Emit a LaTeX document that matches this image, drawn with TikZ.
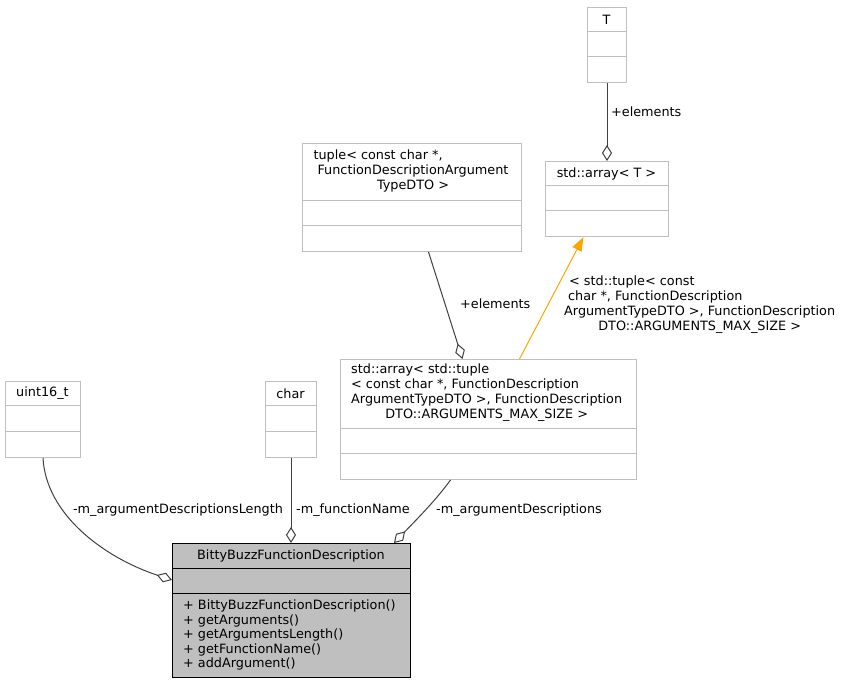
\documentclass[tikz,border=0pt]{standalone}
\usepackage{fontspec}
\setmainfont{DejaVu Sans}
\usetikzlibrary{arrows.meta,calc}
\definecolor{edgegray}{HTML}{404040}
\definecolor{boxgray}{HTML}{BFBFBF}
\definecolor{reforange}{HTML}{FFA500}

\begin{document}
\begin{tikzpicture}[x=1pt,y=-1pt,
    every node/.style={font=\fontsize{12.8}{15}\selectfont,inner sep=0pt},
    cls/.style={draw=boxgray,line width=1pt,anchor=north west},
    maincls/.style={draw=black,fill=boxgray,line width=1pt,anchor=north west},
    aggr/.style={draw=edgegray,line width=1pt,-{Diamond[open,length=16pt,width=10pt]}},
    inst/.style={draw=reforange,line width=1pt,-{Triangle[length=14pt,width=10pt]}}]
  \useasboundingbox (0,0) rectangle (844,684);

  % class boxes
  \node[cls,minimum width=39pt,minimum height=75pt] (T) at (587,7) {};
  \node[cls,minimum width=123pt,minimum height=75pt] (arrT) at (545,161) {};
  \node[cls,minimum width=219pt,minimum height=108pt] (tup) at (302,143) {};
  \node[cls,minimum width=296pt,minimum height=120pt] (arrTup) at (340,359) {};
  \node[cls,minimum width=75pt,minimum height=76pt] (uint) at (5,381) {};
  \node[cls,minimum width=51pt,minimum height=76pt] (chr) at (265,381) {};
  \node[maincls,minimum width=238pt,minimum height=134pt] (main) at (172,543) {};

  % compartment lines
  \foreach \xa/\xb/\ya/\yb in {587/626/32/57, 545/668/186/211, 302/521/201/226,
                               340/636/429/454, 5/80/406/432, 265/316/406/432}
  {
    \draw[boxgray,line width=1pt] (\xa,\ya) -- (\xb,\ya);
    \draw[boxgray,line width=1pt] (\xa,\yb) -- (\xb,\yb);
  }
  \draw[black,line width=1pt] (172,568) -- (410,568);
  \draw[black,line width=1pt] (172,593) -- (410,593);

  % class names
  \node (Tname) at (606.5,19.5) {T};
  \node (arrTname) at (606.5,173.5) {std::array< T >};
  \node (tupname) at (413,172)
    {\begin{tabular}{@{}c@{}}\multicolumn{1}{@{}l@{}}{\hspace*{-4pt}tuple< const char *,}\\
     FunctionDescriptionArgument\\ TypeDTO >\end{tabular}};
  \node[anchor=west] (arrTupname) at (351,393)
    {\begin{tabular}{@{}l@{}}std::array< std::tuple\\
     < const char *, FunctionDescription\\
     ArgumentTypeDTO >, FunctionDescription\\
     \multicolumn{1}{@{}c@{}}{DTO::ARGUMENTS\_MAX\_SIZE >}\end{tabular}};
  \node (uintname) at (42.5,393.5) {uint16\_t};
  \node (chrname) at (290.5,393.5) {char};
  \node (mainname) at (291,555.5) {BittyBuzzFunctionDescription};
  \node[anchor=west,align=left,font=\fontsize{12.8}{14.5}\selectfont] (mainops) at (183,635)
    {+ BittyBuzzFunctionDescription()\\ + getArguments()\\ + getArgumentsLength()\\
     + getFunctionName()\\ + addArgument()};

  % connectors
  \draw[aggr] (T.south) -- (arrT.north);
  \draw[aggr] ([xshift=16.5pt]tup.south) -- ([xshift=-26pt]arrTup.north);
  \draw[inst] ([xshift=31pt]arrTup.north) -- ([xshift=-23.5pt]arrT.south);
  \draw[aggr] (uint.south) .. controls (46,515) and (105,558) .. ([yshift=-37pt]main.north west);
  \draw[aggr] (chr.south) -- (chr.south |- main.north);
  \draw[aggr] ([xshift=-38pt]arrTup.south) .. controls (436,500) and (418,518) .. ([xshift=-17pt]main.north east);

  % connector labels
  \node[anchor=west] (lblT) at (611,112) {+elements};
  \node[anchor=west] (lbltup) at (460,304) {+elements};
  \node[anchor=north west] (lblinst) at (564,275)
    {\begin{tabular}{@{}l@{}}\hspace*{5pt}< std::tuple< const\\
     \hspace*{4pt}char *, FunctionDescription\\
     ArgumentTypeDTO >, FunctionDescription\\
     \multicolumn{1}{@{}c@{}}{DTO::ARGUMENTS\_MAX\_SIZE >}\end{tabular}};
  \node (lbllen) at (178,510) {-m\_argumentDescriptionsLength};
  \node (lblname) at (353,510) {-m\_functionName};
  \node (lbldesc) at (519,510) {-m\_argumentDescriptions};
\end{tikzpicture}
\end{document}
